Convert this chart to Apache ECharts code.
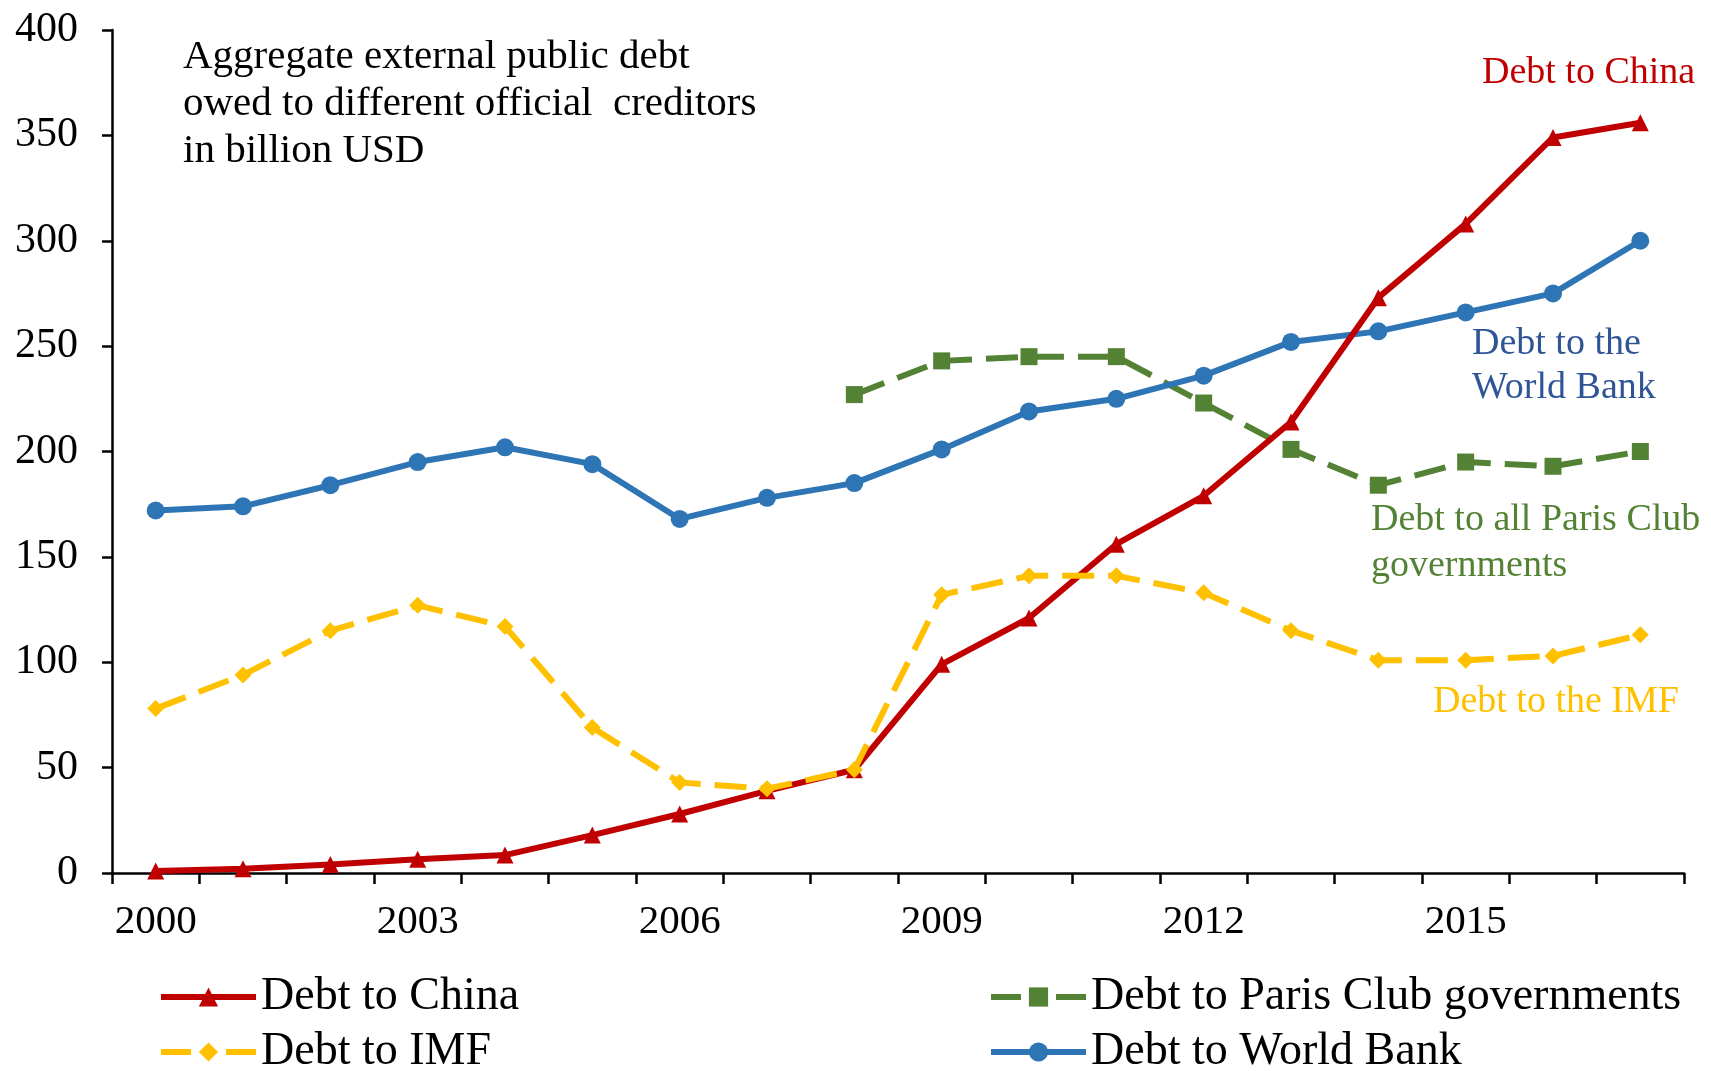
<!DOCTYPE html>
<html>
<head>
<meta charset="utf-8">
<script src="https://cdn.jsdelivr.net/npm/echarts@6/dist/echarts.min.js"></script>
<style>
html,body{margin:0;padding:0;background:#fff;}
#c{width:1711px;height:1071px;}
</style>
</head>
<body>
<div id="c"></div>
<script>
const years = ['2000','2001','2002','2003','2004','2005','2006','2007','2008','2009','2010','2011','2012','2013','2014','2015','2016','2017'];
const china = [1, 2, 4, 6.5, 8.5, 18, 28, 39, 49, 99, 121, 156, 179, 214, 273, 308, 349, 356];
const parisClub = [null, null, null, null, null, null, null, null, 227, 243, 245, 245, 223, 201, 184, 195, 193, 200];
const imf = [78, 94, 115, 127, 117, 69, 43, 40, 49, 132, 141, 141, 133, 115, 101, 101, 103, 113];
const worldBank = [172, 174, 184, 195, 202, 194, 168, 178, 185, 201, 219, 225, 236, 252, 257, 266, 275, 300];
const yTicks = {min: 0, max: 400, interval: 50};

const FONT = 'Liberation Serif';
const RED = '#C00000', GREEN = '#548235', YELLOW = '#FFC000', BLUE = '#2E75B6';

function legendItem(name, left, top, dash) {
  return {
    orient: 'horizontal', left: left, top: top, itemWidth: 95, itemHeight: 24,
    padding: 0,
    textStyle: {fontFamily: FONT, fontSize: 46, color: '#000', padding: [0, 0, 0, 0]},
    lineStyle: {width: 6, type: dash ? [30, 35] : 'solid'},
    data: [name]
  };
}

const chart = echarts.init(document.getElementById('c'), null, {renderer: 'canvas'});
const option = {
  backgroundColor: '#fff',
  animation: false,
  textStyle: {fontFamily: FONT},
  grid: {left: 112, right: 27, top: 30, bottom: 198, containLabel: false},
  xAxis: {
    type: 'category',
    data: years,
    boundaryGap: true,
    axisLine: {lineStyle: {color: '#000', width: 2.5}},
    axisTick: {show: true, interval: 0, length: 11, inside: false, lineStyle: {color: '#000', width: 2.5}},
    axisLabel: {interval: 2, fontFamily: FONT, fontSize: 41, color: '#000', margin: 29}
  },
  yAxis: {
    type: 'value',
    min: yTicks.min, max: yTicks.max, interval: yTicks.interval,
    splitLine: {show: false},
    axisLine: {show: true, lineStyle: {color: '#000', width: 2.5}},
    axisTick: {show: true, length: 10, lineStyle: {color: '#000', width: 2.5}},
    axisLabel: {fontFamily: FONT, fontSize: 42, color: '#000', margin: 34}
  },
  legend: [
    legendItem('Debt to China', 158, 974, false),
    legendItem('Debt to IMF', 158, 1029, true),
    legendItem('Debt to Paris Club governments', 988, 974, true),
    legendItem('Debt to World Bank', 988, 1029, false)
  ],
  series: [
    {
      name: 'Debt to China', type: 'line', data: china,
      symbol: 'triangle', symbolSize: 17,
      lineStyle: {color: RED, width: 6},
      itemStyle: {color: RED},
      z: 3
    },
    {
      name: 'Debt to Paris Club governments', type: 'line', data: parisClub,
      symbol: 'rect', symbolSize: 17,
      lineStyle: {color: GREEN, width: 6, type: [32, 14]},
      itemStyle: {color: GREEN},
      z: 2
    },
    {
      name: 'Debt to IMF', type: 'line', data: imf,
      symbol: 'diamond', symbolSize: 17,
      lineStyle: {color: YELLOW, width: 6, type: [32, 14]},
      itemStyle: {color: YELLOW},
      z: 4
    },
    {
      name: 'Debt to World Bank', type: 'line', data: worldBank,
      symbol: 'circle', symbolSize: 18,
      lineStyle: {color: BLUE, width: 6},
      itemStyle: {color: BLUE},
      z: 2
    }
  ],
  graphic: [
    {type: 'text', left: 183, top: 34, style: {text: 'Aggregate external public debt\nowed to different official  creditors\nin billion USD', fontFamily: FONT, fontSize: 41, lineHeight: 47, fill: '#000'}},
    {type: 'text', left: 1482, top: 54, style: {text: 'Debt to China', fontFamily: FONT, fontSize: 38, fill: RED}},
    {type: 'text', left: 1472, top: 322, style: {text: 'Debt to the\nWorld Bank', fontFamily: FONT, fontSize: 38, lineHeight: 44, fill: '#2F5597', align: 'center'}},
    {type: 'text', left: 1371, top: 497, style: {text: 'Debt to all Paris Club\ngovernments', fontFamily: FONT, fontSize: 38, lineHeight: 46, fill: GREEN}},
    {type: 'text', left: 1433, top: 683, style: {text: 'Debt to the IMF', fontFamily: FONT, fontSize: 38, fill: YELLOW}}
  ]
};
chart.setOption(option);
</script>
</body>
</html>
